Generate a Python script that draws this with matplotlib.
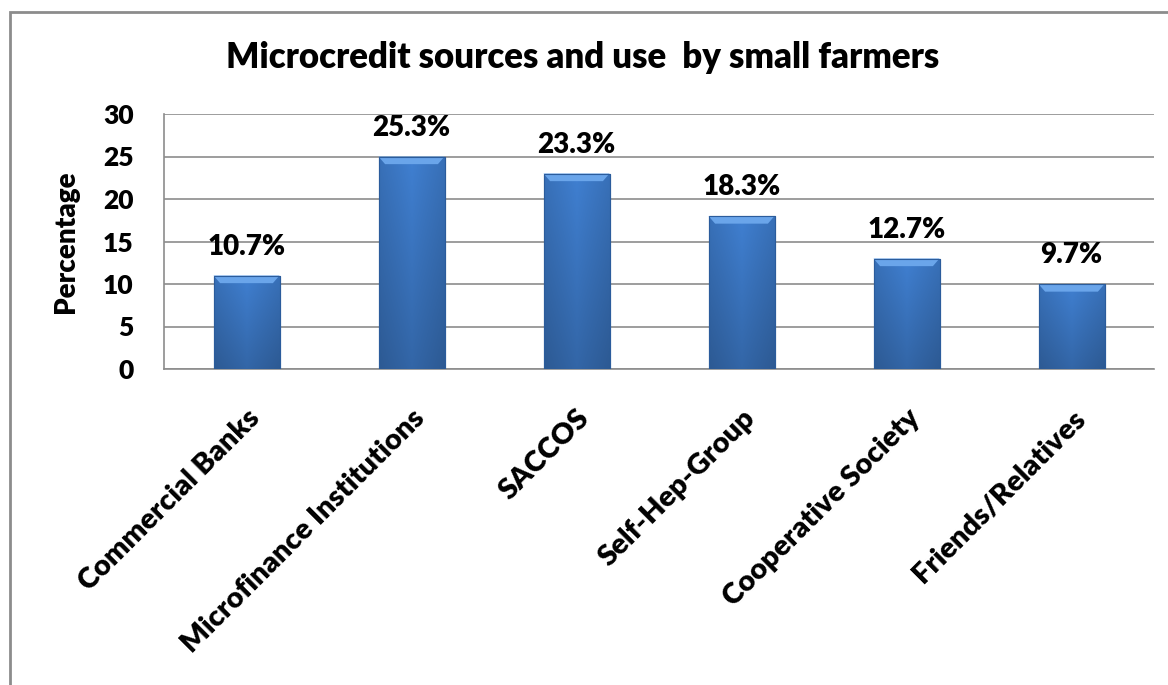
import matplotlib
matplotlib.use("Agg")
import matplotlib.pyplot as plt
import numpy as np
from matplotlib.patches import Rectangle, Polygon

categories = ["Commercial Banks", "Microfinance Institutions", "SACCOS",
              "Self-Hep-Group", "Cooperative Society", "Friends/Relatives"]
values = [11, 25, 23, 18, 13, 10]
labels = ["10.7%", "25.3%", "23.3%", "18.3%", "12.7%", "9.7%"]
yticks = [0, 5, 10, 15, 20, 25, 30]

plt.rcParams['font.family'] = ['Lato', 'DejaVu Sans']
WT = 'heavy'

W, H = 1168, 685
fig = plt.figure(figsize=(W / 100, H / 100), dpi=100)
# outer chart frame (only top and left edges visible in the crop)
fig.patches.append(Rectangle((10 / W, -10 / H), 1200 / W, (H - 12 + 10) / H,
                             transform=fig.transFigure, fill=False,
                             edgecolor='#8c8c8c', linewidth=2))

ax = fig.add_axes([164 / W, 1 - 369 / H, 990 / W, 255 / H])
x = np.arange(len(categories))
bars = ax.bar(x, values, width=0.40, color='#3a77c6', edgecolor='#2b5c9c',
              linewidth=0.8, zorder=3)

# gentle gradient fill clipped to each bar
n = 64
hpos = np.linspace(0, 1, n)
shade = 1 - 0.12 * np.abs(hpos - 0.5) * 2
base = np.array([0.25, 0.50, 0.82])
vert = np.linspace(1.0, 0.80, n)[:, None]
img = np.ones((n, n, 3))
for c in range(3):
    img[:, :, c] = np.clip(base[c] * shade[None, :] * vert, 0, 1)
for b in bars:
    x0, y0 = b.get_x(), b.get_y()
    w, h = b.get_width(), b.get_height()
    im = ax.imshow(img, extent=[x0, x0 + w, y0, y0 + h], aspect='auto',
                   zorder=3.5, origin='upper')
    im.set_clip_path(b)
    bev = 0.9
    dx = w * 0.1
    ax.add_patch(Polygon([(x0, y0 + h), (x0 + w, y0 + h),
                          (x0 + w - dx, y0 + h - bev), (x0 + dx, y0 + h - bev)],
                         closed=True, facecolor='#6aa5ea', edgecolor='none',
                         zorder=3.6))
    ax.add_patch(Rectangle((x0, y0), w, h, fill=False, edgecolor='#2b5c9c',
                           linewidth=0.8, zorder=3.7))

for xi, v, lab in zip(x, values, labels):
    ax.text(xi, v + 3.4, lab, ha='center', va='center', fontsize=20,
            fontweight=WT, zorder=5)

ax.set_xlim(-0.5, len(categories) - 0.5)
ax.set_ylim(0, 30)
ax.set_yticks(yticks)
ax.set_yticklabels([str(t) for t in yticks], fontsize=19, fontweight=WT)
ax.set_xticks(x)
ax.set_xticklabels(categories, rotation=45, ha='right', rotation_mode='anchor',
                   fontsize=21, fontweight=WT)
ax.tick_params(axis='x', length=0, pad=26)
ax.tick_params(axis='y', length=0, pad=22)
ax.yaxis.grid(True, color='#8c8c8c', linewidth=1.2, zorder=0)
ax.set_axisbelow(True)
for s in ['top', 'right']:
    ax.spines[s].set_visible(False)
ax.spines['left'].set_color('#8c8c8c')
ax.spines['bottom'].set_color('#8c8c8c')
ax.spines['left'].set_linewidth(1.2)
ax.spines['bottom'].set_linewidth(1.2)

ax.set_ylabel("Percentage", fontsize=20, fontweight=WT, labelpad=17)
fig.text(583 / W, 1 - 58 / H, "Microcredit sources and use  by small farmers",
         ha='center', va='center', fontsize=25, fontweight=WT)

fig.savefig("out.png", dpi=100)
